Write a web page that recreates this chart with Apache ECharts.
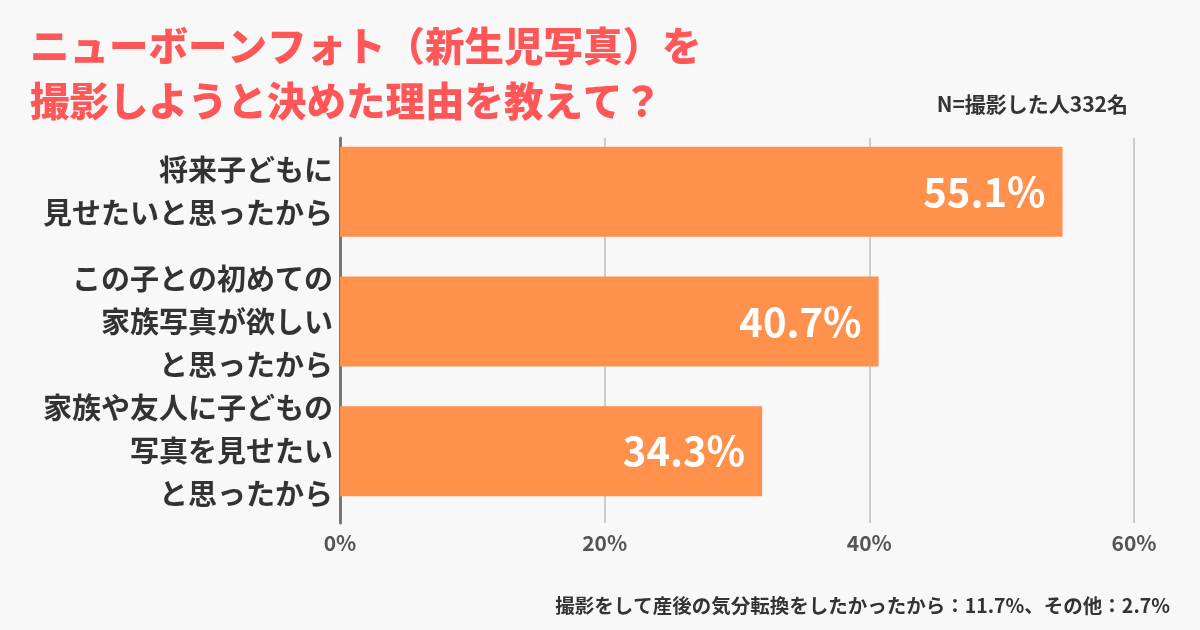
<!DOCTYPE html>
<html>
<head>
<meta charset="utf-8">
<script src="https://cdn.jsdelivr.net/npm/echarts@6/dist/echarts.min.js"></script>
<style>
html,body{margin:0;padding:0;background:#F8F8F8;}
#c{width:1200px;height:630px;}
</style>
</head>
<body>
<div id="c"></div>
<script>
// ---- data ----
var titleText = 'ニューボーンフォト（新生児写真）を\n撮影しようと決めた理由を教えて？';
var sampleText = 'N=撮影した人332名';
var noteText = '撮影をして産後の気分転換をしたかったから：11.7%、その他：2.7%';
var categories = [
  '将来子どもに\n見せたいと思ったから',
  'この子との初めての\n家族写真が欲しい\nと思ったから',
  '家族や友人に子どもの\n写真を見せたい\nと思ったから'
];
// bar lengths as drawn in the picture (percent)
var barValues = [54.6, 40.7, 31.9];
// value labels as printed on the bars
var valueLabels = ['55.1%', '40.7%', '34.3%'];
var xTicks = [0, 20, 40, 60];
var xMin = 0, xMax = 60, xInterval = 20;

var FONT = '"Noto Sans CJK JP", "Noto Sans", sans-serif';
var chart = echarts.init(document.getElementById('c'), null, {renderer: 'canvas'});
chart.setOption({
  backgroundColor: '#F8F8F8',
  animation: false,
  textStyle: {fontFamily: FONT},
  title: [{
    text: titleText,
    left: 25, top: 13,
    textStyle: {fontFamily: FONT, fontSize: 39.5, fontWeight: 900, color: '#FF5757', lineHeight: 55}
  }, {
    text: sampleText,
    right: 67, top: 89,
    textStyle: {fontFamily: FONT, fontSize: 21, fontWeight: 'bold', color: '#333333'}
  }, {
    text: noteText,
    right: 25, top: 591,
    textStyle: {fontFamily: FONT, fontSize: 19.5, fontWeight: 'bold', color: '#333333'}
  }],
  grid: [
    {left: 340, right: 66, top: 127, height: 389},
    {left: 340, right: 66, top: 138, height: 385}
  ],
  xAxis: [{
    gridIndex: 0, type: 'value', min: xMin, max: xMax, interval: xInterval,
    show: false
  }, {
    gridIndex: 1, type: 'value', min: xMin, max: xMax, interval: xInterval,
    axisLine: {show: false}, axisTick: {show: false},
    splitLine: {show: true, lineStyle: {color: '#CCCCCC', width: 2}},
    axisLabel: {
      margin: 10, fontSize: 21, fontWeight: 'bold', color: '#555555', fontFamily: FONT,
      formatter: function (v) { return xTicks.indexOf(v) >= 0 ? v + '%' : ''; }
    }
  }],
  yAxis: [{
    gridIndex: 0, type: 'category', data: categories, inverse: true,
    axisLine: {show: false}, axisTick: {show: false},
    axisLabel: {
      margin: 7, fontSize: 29, fontWeight: 'bold', color: '#333333',
      lineHeight: 43, align: 'right', fontFamily: FONT
    }
  }, {
    gridIndex: 1, type: 'category', data: categories, inverse: true,
    axisLine: {show: true, lineStyle: {color: '#777777', width: 3}},
    axisTick: {show: false}, axisLabel: {show: false}, splitLine: {show: false}
  }],
  series: [{
    type: 'bar',
    xAxisIndex: 0, yAxisIndex: 0,
    data: barValues,
    barWidth: 90,
    itemStyle: {color: '#FF914D'},
    label: {
      show: true, position: 'insideRight', distance: 17,
      color: '#FFFFFF', fontSize: 40, fontWeight: 'bold', fontFamily: FONT,
      formatter: function (p) { return valueLabels[p.dataIndex]; }
    },
    z: 3
  }]
});
</script>
</body>
</html>
